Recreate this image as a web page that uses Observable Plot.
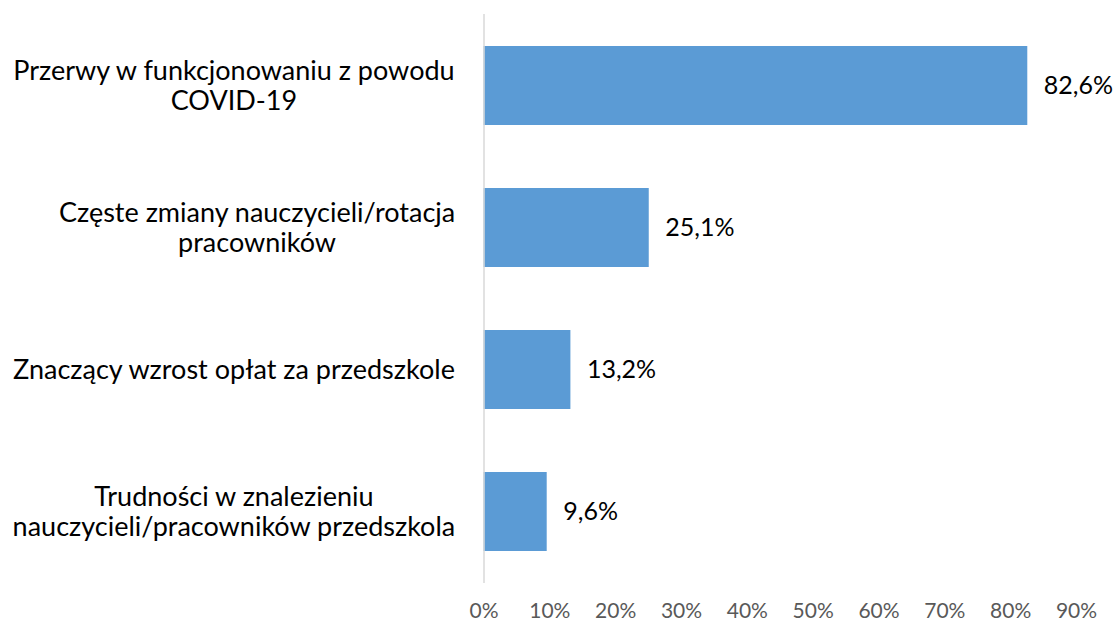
<!DOCTYPE html>
<html><head><meta charset="utf-8">
<script src="https://cdn.jsdelivr.net/npm/d3@7"></script>
<script src="https://cdn.jsdelivr.net/npm/@observablehq/plot@0.6"></script>
<style>body{margin:0;background:#fff;}</style>
</head><body><div id="chart"></div>
<script>
const categoryLines = [
  ["Przerwy w funkcjonowaniu z powodu", "COVID-19"],
  ["Częste zmiany nauczycieli/rotacja", "pracowników"],
  ["Znaczący wzrost opłat za przedszkole"],
  ["Trudności w znalezieniu", "nauczycieli/pracowników przedszkola"]
];
const categories = categoryLines.map(l => l.join(" "));
const values = [82.6, 25.1, 13.2, 9.6];
const xTicks = [0, 10, 20, 30, 40, 50, 60, 70, 80, 90];

const data = categories.map((c, i) => ({cat: c, value: values[i]}));
const fontFamily = "Lato";
const catSize = 27, valSize = 25, tickSize = 21, linePitch = 30;

const ctx = document.createElement("canvas").getContext("2d");
ctx.font = `${catSize}px ${fontFamily}`;

const labelMarks = [];
categoryLines.forEach((lines, i) => {
  const W = Math.max(...lines.map(s => ctx.measureText(s).width));
  const n = lines.length;
  lines.forEach((line, j) => {
    labelMarks.push(Plot.text([categories[i]], {
      y: d => d, text: () => line, frameAnchor: "left", textAnchor: "middle",
      dx: -28.5 - W / 2, dy: (j - (n - 1) / 2) * linePitch,
      fontSize: catSize, fill: "#000"
    }));
  });
});

const fmt = v => v.toFixed(1).replace(".", ",") + "%";

const chart = Plot.plot({
  width: 1119, height: 623,
  marginLeft: 483.5, marginRight: 43, marginTop: 14, marginBottom: 40,
  style: {fontFamily, background: "#fff"},
  x: {domain: [0, 90], axis: null},
  y: {domain: categories, paddingInner: 0.444, paddingOuter: 0.222, axis: null},
  marks: [
    Plot.barX(data, {x: "value", y: "cat", fill: "#5b9bd5"}),
    Plot.ruleX([0], {stroke: "#d9d9d9", strokeWidth: 1.5}),
    Plot.text(data, {x: "value", y: "cat", text: d => fmt(d.value), textAnchor: "start", dx: 16, fontSize: valSize, fill: "#000"}),
    Plot.axisX(xTicks, {tickSize: 0, tickPadding: 20, fontSize: tickSize, color: "#595959", tickFormat: d => d + "%", label: null}),
    ...labelMarks
  ]
});
document.getElementById("chart").appendChild(chart);
</script></body></html>
